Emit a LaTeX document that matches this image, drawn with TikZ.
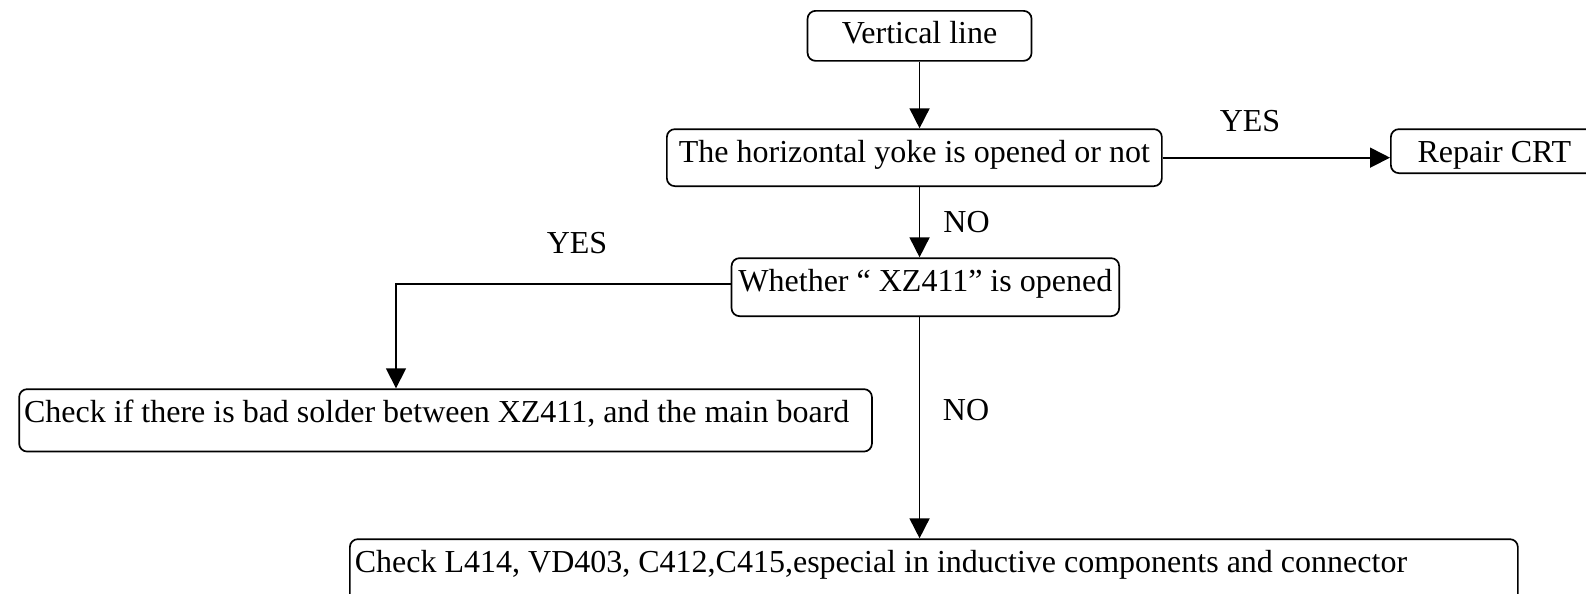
\documentclass[tikz,border=0pt]{standalone}
\usepackage{fontspec}
\setmainfont{Liberation Serif}
\usetikzlibrary{arrows.meta}
\begin{document}
\begin{tikzpicture}
        [x=0.5pt,y=-0.5pt,
        box/.style={draw, rounded corners=4pt, line width=0.85pt, anchor=north west,
                inner xsep=2.5pt, inner ysep=1.5pt, text height=15pt,
                font=\fontsize{16}{19}\selectfont},
        lbl/.style={anchor=base, inner sep=0pt, font=\fontsize{16}{19}\selectfont},
        arr/.style={-{Triangle[length=10pt,width=10pt]}, line width=0.85pt}]
        \clip (0,0) rectangle (1586,594);
        %Kaesten
        \node [box, minimum width=112pt, text depth=7pt] (vline) at (806.7,10) {Vertical line};
        \node [box, minimum width=247.5pt, text depth=10.5pt] (hyoke) at (666,128.3) {The horizontal yoke is opened or not};
        \node [box, minimum width=103.5pt, text depth=4pt] (repair) at (1390,128.3) {Repair CRT};
        \node [box, minimum width=193.8pt, inner xsep=1pt, text depth=11pt] (whether) at (730.7,257.3) {Whether “ XZ411” is opened};
        \node [box, text width=421.4pt, align=flush left, text depth=13.2pt] (solder) at (18.3,388.3) {Check if there is bad solder between XZ411, and the main board};
        \node [box, text width=579pt, align=flush left, text depth=13.5pt] (lcheck) at (349,538.3) {Check L414, VD403, C412,C415,especial in inductive components and connector};
        %Beschriftungen
        \node [lbl] (yesr) at (1250,131.7) {YES};
        \node [lbl] (noa) at (966.5,232.7) {NO};
        \node [lbl] (yesl) at (577,253.3) {YES};
        \node [lbl] (nob) at (966,420.7) {NO};
        %Pfeile
        \coordinate (ybend) at (396,284);
        \draw [arr] (vline) -- (vline |- hyoke.north);
        \draw [arr] (hyoke.south -| vline) -- (whether.north -| vline);
        \draw [arr] (whether.south -| vline) -- (lcheck.north -| vline);
        \draw [arr] (hyoke.east) -- (repair.west |- hyoke.east);
        \draw [arr] (whether.west |- ybend) -- (ybend) -- (ybend |- solder.north);
\end{tikzpicture}
\end{document}
